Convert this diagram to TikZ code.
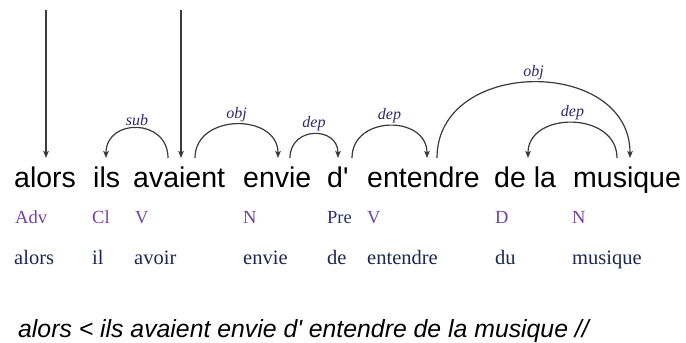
\documentclass[tikz,border=0pt]{standalone}
\usepackage{fontspec}
\setmainfont{Liberation Serif}
\newfontfamily\arialf{Liberation Sans}
\usetikzlibrary{arrows.meta}
\definecolor{edgec}{HTML}{3A3A3A}
\definecolor{labc}{HTML}{2E2A6E}
\definecolor{posc}{HTML}{7440A0}
\definecolor{prec}{HTML}{2A3070}
\definecolor{lemc}{HTML}{1E2850}
\begin{document}
\begin{tikzpicture}[x=1pt,y=-1pt,
  word/.style={anchor=base west, inner sep=0pt, font=\arialf\fontsize{28.5}{30}\selectfont, text=black},
  postag/.style={anchor=base west, inner sep=0pt, font=\fontsize{18.5}{20}\selectfont, text=posc},
  lem/.style={anchor=base west, inner sep=0pt, font=\fontsize{20.5}{22}\selectfont, text=lemc},
  deparc/.style={draw=edgec, line width=1.2pt, -{Stealth[length=7pt,width=5.5pt,inset=1.5pt]}},
  lab/.style={font=\itshape\fontsize{16}{18}\selectfont, text=labc, inner sep=2pt, above},
  sent/.style={anchor=base west, inner sep=0pt, font=\arialf\itshape\fontsize{24.8}{26}\selectfont, text=black}]
\useasboundingbox[fill=white] (0,0) rectangle (686,343);

% words
\node[word] (alors) at (14,187) {alors};
\node[word] (ils) at (93,187) {ils};
\node[word] (avaient) at (133,187) {avaient};
\node[word] (envie) at (243,187) {envie};
\node[word] (dd) at (327,187) {d\textquotesingle};
\node[word] (entendre) at (367,187) {entendre};
\node[word] (dela) at (494,187) {de la};
\node[word] (musique) at (573,187) {musique};

% POS
\node[postag] (p1) at (15,223) {Adv};
\node[postag] (p2) at (92,223) {Cl};
\node[postag] (p3) at (135,223) {V};
\node[postag] (p4) at (243,223) {N};
\node[postag, text=prec] (p5) at (327,223) {Pre};
\node[postag] (p6) at (367,223) {V};
\node[postag] (p7) at (495,223) {D};
\node[postag] (p8) at (572,223) {N};

% lemmas
\node[lem] (l1) at (14,264) {alors};
\node[lem] (l2) at (92,264) {il};
\node[lem] (l3) at (134,264) {avoir};
\node[lem] (l4) at (243,264) {envie};
\node[lem] (l5) at (327,264) {de};
\node[lem] (l6) at (367,264) {entendre};
\node[lem] (l7) at (495,264) {du};
\node[lem] (l8) at (572,264) {musique};

% sentence
\node[sent] (s) at (18,337) {alors < ils avaient envie d\textquotesingle{} entendre de la musique //};

% attachment points
\coordinate (top1) at (46,10);
\coordinate (top2) at (181,10);
\coordinate (alorsIn) at (46,158);
\coordinate (avIn) at (181,158);
\coordinate (ilsIn) at (106,158);
\coordinate (avOutL) at (168,158);
\coordinate (avOutR) at (195,158);
\coordinate (envIn) at (278,158);
\coordinate (envOut) at (290,158);
\coordinate (dIn) at (338,158);
\coordinate (dOut) at (352,158);
\coordinate (entIn) at (427,158);
\coordinate (entOut) at (437,158);
\coordinate (delaIn) at (528,158);
\coordinate (musOut) at (617,158);
\coordinate (musIn) at (630,158);

% root arrows
\draw[deparc] (top1) -- (alorsIn);
\draw[deparc] (top2) -- (avIn);

% dependency arcs
\draw[deparc] (avOutL) .. controls +(0,-40) and +(0,-40) .. node[lab, pos=0.5] {sub} (ilsIn);
\draw[deparc] (avOutR) .. controls +(0,-45) and +(0,-45) .. node[lab, pos=0.5] {obj} (envIn);
\draw[deparc] (envOut) .. controls +(0,-32) and +(0,-32) .. node[lab, pos=0.5] {dep} (dIn);
\draw[deparc] (dOut) .. controls +(0,-43) and +(0,-43) .. node[lab, pos=0.5] {dep} (entIn);
\draw[deparc] (entOut) .. controls +(0,-101) and +(0,-101) .. node[lab, pos=0.5] {obj} (musIn);
\draw[deparc] (musOut) .. controls +(0,-47) and +(0,-47) .. node[lab, pos=0.5] {dep} (delaIn);
\end{tikzpicture}
\end{document}
